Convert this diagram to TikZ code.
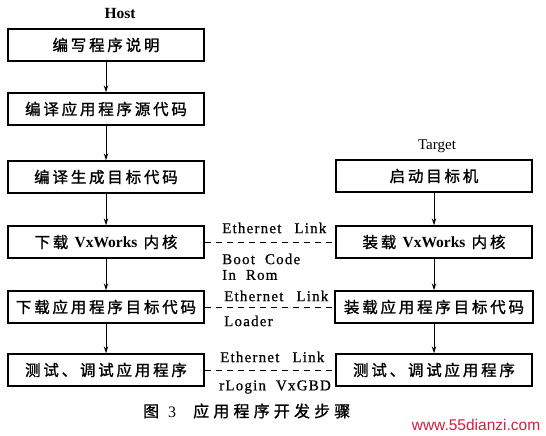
\documentclass[tikz,border=0pt]{standalone}
\usepackage{fontspec}
\setmainfont{Liberation Serif}
\newfontfamily\cjk{Noto Sans CJK SC}[LetterSpace=18,FakeBold=1.2]
\newfontfamily\cjkcap{Noto Sans CJK SC}[LetterSpace=26,FakeBold=1.0]
\newfontfamily\lbl{Liberation Serif}[LetterSpace=8,FakeBold=0.6]
\newfontfamily\wm{Liberation Sans}
\usetikzlibrary{arrows.meta}
\definecolor{wmred}{RGB}{214,30,62}
\begin{document}
\begin{tikzpicture}[x=1pt,y=-1pt,
  box/.style={draw,line width=1.4pt,minimum height=32pt,minimum width=196pt,inner sep=0pt,
    font=\cjk\fontsize{15.5}{18}\selectfont},
  flow/.style={line width=1pt,-{Stealth[length=7pt,width=4.5pt]}},
  link/.style={dashed,line width=0.9pt,dash pattern=on 6pt off 5pt},
  lab/.style={anchor=west,inner sep=0pt,font=\lbl\fontsize{15}{18}\selectfont},
  head/.style={inner sep=0pt,font=\fontsize{15}{18}\selectfont}]
\useasboundingbox (0,0) rectangle (546,436);
\fill[white] (0,0) rectangle (546,436);
% headings
\node[head,font=\bfseries\fontsize{15.5}{18}\selectfont] (host) at (120,14) {Host};
\node[head] (target) at (437,146) {Target};
% host column
\node[box] (L1) at (106,45) {编写程序说明};
\node[box] (L2) at (106,109) {编译应用程序源代码};
\node[box] (L3) at (106,177) {编译生成目标代码};
\node[box] (L4) at (106,242) {下载 {\rmfamily\bfseries VxWorks} 内核};
\node[box] (L5) at (106,307) {下载应用程序目标代码};
\node[box] (L6) at (106,370) {测试、调试应用程序};
% target column
\node[box] (R1) at (434,176) {启动目标机};
\node[box] (R2) at (434,242) {装载 {\rmfamily\bfseries VxWorks} 内核};
\node[box,minimum width=198pt] (R3) at (434,307) {装载应用程序目标代码};
\node[box] (R4) at (434,370) {测试、调试应用程序};
% flows
\draw[flow] (L1) -- (L2);
\draw[flow] (L2) -- (L3);
\draw[flow] (L3) -- (L4);
\draw[flow] (L4) -- (L5);
\draw[flow] (L5) -- (L6);
\draw[flow] (R1) -- (R2);
\draw[flow] (R2) -- (R3);
\draw[flow] (R3) -- (R4);
% links
\draw[link] (L4) -- (R2);
\draw[link] (L5) -- (R3);
\draw[link] (L6) -- (R4);
\node[lab] (e1) at (222,228) {Ethernet\hspace{13pt}Link};
\node[lab] (b1) at (222,259) {Boot\hspace{10pt}Code};
\node[lab] (b2) at (222,275) {In\hspace{10pt}Rom};
\node[lab] (e2) at (224,296) {Ethernet\hspace{13pt}Link};
\node[lab] (ld) at (224,321) {Loader};
\node[lab] (e3) at (220,357) {Ethernet\hspace{13pt}Link};
\node[lab] (rl) at (219,387) {rLogin\hspace{10pt}VxGBD};
% caption
\node[inner sep=0pt,anchor=west] (cap) at (143,411)
  {{\cjk\fontsize{16}{18}\selectfont 图}\hspace{9pt}{\fontsize{16}{18}\selectfont 3}\hspace{17pt}{\cjkcap\fontsize{16}{18}\selectfont 应用程序开发步骤}};
% watermark
\node[inner sep=0pt,text=wmred,font=\wm\fontsize{15.5}{16}\selectfont] (wm) at (476,425) {www.55dianzi.com};
\end{tikzpicture}
\end{document}
